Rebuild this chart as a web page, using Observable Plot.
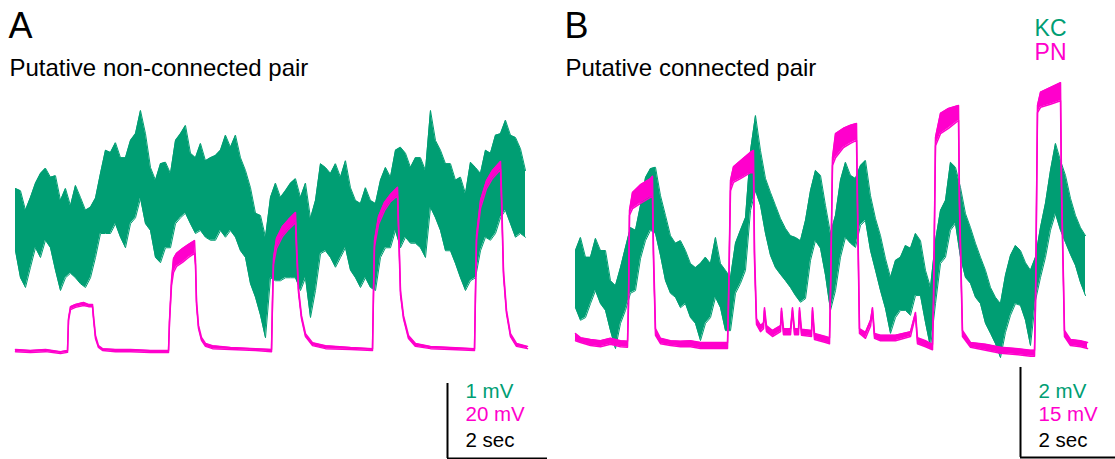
<!DOCTYPE html>
<html>
<head>
<meta charset="utf-8">
<script src="https://cdn.jsdelivr.net/npm/d3@7"></script>
<script src="https://cdn.jsdelivr.net/npm/@observablehq/plot@0.6"></script>
<style>
  html, body { margin: 0; padding: 0; background: #fff; }
  #fig { width: 1115px; height: 459px; display: flex; overflow: hidden; }
  #fig svg { display: block; }
</style>
</head>
<body>
<div id="fig"></div>
<script>
const green = "#009E73";
const magenta = "#FF00CC";
const dt = 0.1; // seconds between KC envelope samples

// ---------- Panel A: putative non-connected pair ----------
// KC membrane potential envelope (mV, arbitrary offset), sampled every 0.1 s
const kcA_hi = [2.16,2.13,1.87,2.04,2.23,2.36,2.43,2.31,2.33,2.00,
  2.16,1.93,2.20,2.04,1.87,1.91,2.03,2.36,2.67,2.64,
  2.77,2.57,2.57,2.80,2.89,3.20,2.89,2.44,2.27,2.49,
  2.51,2.36,2.80,2.89,3.00,2.63,2.57,2.76,2.53,2.57,
  2.60,2.67,2.87,2.71,2.87,2.57,2.40,2.17,1.83,1.80,
  1.51,2.04,2.23,2.04,2.13,2.23,2.29,2.04,2.23,1.76,
  2.00,2.49,2.44,2.36,2.49,2.31,2.53,2.17,2.00,1.96,
  2.17,2.00,1.96,2.27,2.44,2.31,2.67,2.71,2.63,2.44,
  2.57,2.57,2.40,3.20,2.80,2.67,2.49,2.49,2.27,2.31,
  2.09,2.51,2.44,2.36,2.67,2.63,2.87,2.89,3.07,2.87,
  2.84,2.69,2.40];
const kcA_lo = [1.33,0.97,0.84,1.11,1.37,1.24,1.47,1.37,1.07,0.80,
  0.97,1.03,0.97,0.89,0.84,0.97,1.24,1.56,1.56,1.56,
  1.69,1.51,1.37,1.69,1.77,2.03,1.69,1.60,1.24,1.17,
  1.37,1.37,1.69,1.77,1.83,1.69,1.56,1.60,1.51,1.47,
  1.47,1.60,1.51,1.60,1.51,1.33,1.24,0.89,0.71,0.47,
  0.17,0.97,0.93,0.93,0.97,0.97,0.97,0.80,0.97,0.44,
  0.80,1.29,1.33,1.24,1.11,1.24,1.37,1.07,0.97,0.84,
  0.97,0.84,0.80,1.24,1.37,1.37,1.60,1.37,1.51,1.43,
  1.43,1.37,1.24,1.91,1.77,1.60,1.33,1.33,1.16,0.97,
  0.80,0.93,0.97,1.33,1.51,1.47,1.56,1.77,1.87,1.69,
  1.51,1.56,1.51];
// PN membrane potential (mV relative to rest): time (s), upper and lower envelope
const pnA_t = [0,0.30,0.60,0.90,1.04,1.06,1.10,1.20,1.36,1.46,
  1.54,1.56,1.60,1.66,1.74,2.00,2.30,2.70,3.06,3.08,
  3.12,3.16,3.22,3.34,3.46,3.58,3.60,3.62,3.66,3.72,
  3.80,3.94,4.30,4.80,5.12,5.14,5.16,5.22,5.34,5.46,
  5.60,5.62,5.66,5.72,5.80,5.94,6.20,6.70,7.14,7.16,
  7.18,7.26,7.38,7.50,7.64,7.66,7.70,7.76,7.86,8.00,
  8.30,8.70,9.18,9.20,9.22,9.30,9.42,9.54,9.70,9.72,
  9.76,9.82,9.90,10.02,10.24];
const pnA_hi = [0.3,0.0,0.3,-0.3,0.0,8.5,11.7,12.3,12.8,12.3,
  12.3,9.3,4.0,1.3,0.5,0.3,0.3,0.0,0.0,8.0,
  18.7,24.5,25.9,27.2,28.3,29.3,24.0,13.3,6.7,3.5,
  1.9,1.3,0.8,0.5,0.3,13.3,24.5,29.9,33.1,34.9,
  36.8,29.3,16.5,9.3,4.5,2.1,1.3,0.8,0.5,16.0,
  29.3,35.7,39.5,41.6,43.5,34.7,16.0,9.3,4.0,1.9,
  1.1,0.8,0.5,16.0,30.7,40.0,45.3,48.0,50.4,42.7,
  21.3,10.7,4.5,1.9,1.1];
const pnA_lo = [-0.3,-0.5,-0.3,-0.8,-0.5,8.0,10.9,11.5,12.0,11.7,
  11.7,8.5,3.2,0.8,0.0,-0.3,-0.3,-0.5,-0.5,7.5,
  17.3,20.8,22.4,23.5,24.8,25.9,22.7,12.3,5.9,2.7,
  1.1,0.5,0.3,0.0,-0.3,12.5,22.9,27.2,30.4,32.3,
  34.1,26.7,15.5,8.5,3.7,1.3,0.5,0.3,0.0,14.9,
  27.7,33.6,37.3,39.7,41.3,32.5,14.9,8.5,3.2,1.1,
  0.5,0.3,0.0,14.9,29.3,37.9,43.2,45.9,48.3,40.0,
  20.0,9.9,3.7,1.1,0.5];

// ---------- Panel B: putative connected pair ----------
const kcB_hi = [2.11,2.40,1.96,1.96,2.38,2.11,2.11,1.44,1.33,1.73,
  2.18,2.62,2.56,3.11,3.73,3.93,3.96,3.33,2.89,2.44,
  2.27,2.33,2.11,1.82,1.73,1.82,1.96,1.82,2.40,1.82,
  1.67,1.51,2.27,2.56,2.84,4.33,5.11,4.33,3.71,3.40,
  3.11,2.82,2.60,2.44,2.40,2.33,2.78,3.44,3.89,3.78,
  3.11,2.49,2.89,3.67,4.07,3.78,3.71,4.00,4.11,3.33,
  2.82,2.44,1.93,1.51,1.89,1.96,2.22,2.16,2.49,2.33,
  1.67,1.29,2.33,3.00,3.22,4.07,3.96,3.51,2.93,2.62,
  2.27,1.96,1.67,1.29,1.07,0.93,1.56,2.00,2.22,2.11,
  1.84,1.67,1.96,2.62,3.16,3.89,4.49,4.11,3.78,3.27,
  2.89,2.62,2.44];
const kcB_lo = [0.84,0.56,0.62,0.93,1.22,0.93,0.78,0.33,-0.07,0.49,
  0.78,1.16,1.22,1.93,2.33,2.56,2.49,2.00,1.44,1.16,
  1.07,0.84,0.93,0.62,0.49,0.11,0.49,0.62,1.07,0.84,
  0.33,0.33,1.16,1.38,1.67,3.00,3.44,3.11,2.49,2.00,
  1.73,1.58,1.44,1.29,1.11,0.96,1.04,1.89,2.33,2.16,
  1.56,0.78,1.22,1.96,2.40,2.27,2.18,2.67,2.78,2.11,
  1.67,1.22,0.82,0.27,0.62,0.78,0.78,0.67,1.11,1.11,
  0.51,-0.04,0.93,1.82,1.96,2.56,2.71,1.96,1.51,1.38,
  1.07,0.93,0.49,0.27,0.04,-0.27,0.29,0.67,0.93,0.89,
  0.56,0.00,1.00,1.51,1.96,2.56,2.93,2.56,2.29,2.02,
  1.78,1.40,1.11];
const pnB_t = [0,0.10,0.30,0.50,0.70,0.90,1.04,1.06,1.08,1.14,
  1.30,1.50,1.54,1.56,1.60,1.70,1.90,2.10,2.30,2.50,
  2.80,3.04,3.06,3.10,3.16,3.30,3.50,3.56,3.58,3.62,
  3.70,3.76,3.78,3.82,3.94,4.10,4.12,4.16,4.30,4.34,
  4.38,4.46,4.48,4.52,4.72,4.74,4.78,5.00,5.08,5.10,
  5.14,5.20,5.36,5.50,5.62,5.64,5.68,5.80,5.90,5.94,
  5.98,6.10,6.40,6.70,6.80,6.84,7.00,7.14,7.16,7.20,
  7.30,7.46,7.66,7.68,7.74,7.90,8.20,8.50,8.80,9.10,
  9.18,9.20,9.24,9.30,9.50,9.70,9.72,9.78,9.90,10.10,
  10.24];
const pnB_hi = [2.0,1.3,1.0,0.8,1.2,0.8,0.7,7.5,22.5,25.5,
  26.8,27.8,28.2,15.8,2.8,1.2,0.8,0.7,0.8,0.5,
  0.5,0.5,7.5,27.5,29.8,30.8,32.2,32.5,15.8,4.5,
  3.3,3.8,6.3,3.3,2.5,3.3,6.2,2.8,2.8,6.3,
  2.8,2.8,6.3,2.7,2.5,6.3,2.0,1.5,1.3,9.2,
  31.3,35.3,36.2,36.7,37.0,24.2,2.8,2.2,4.2,6.3,
  2.0,1.7,1.7,2.3,5.5,1.3,0.8,0.2,7.5,34.7,
  38.7,39.5,40.0,24.2,2.5,0.5,0.2,-0.3,-0.5,-0.8,
  -0.8,7.5,40.0,42.2,43.0,43.8,27.5,2.5,1.0,0.8,
  0.5];
const pnB_lo = [0.8,0.5,0.0,-0.2,0.2,-0.2,-0.3,6.7,21.7,22.8,
  23.7,24.7,24.7,14.2,1.7,0.3,0.0,-0.2,-0.2,-0.5,
  -0.5,-0.5,6.7,25.8,27.2,27.8,28.8,28.8,14.2,3.5,
  2.3,2.8,5.8,2.3,1.5,2.3,5.7,1.8,1.8,5.8,
  1.8,1.8,5.8,1.7,1.5,5.8,1.0,0.5,0.3,8.3,
  30.0,31.3,33.0,33.7,34.2,22.5,2.0,1.2,3.2,5.8,
  1.2,0.8,0.8,1.5,5.0,0.3,-0.2,-0.7,6.7,33.3,
  35.3,36.2,37.5,22.5,1.5,-0.3,-0.8,-1.3,-1.5,-1.8,
  -1.8,6.7,38.8,39.7,40.2,40.8,25.8,1.5,0.0,-0.2,
  -0.5];

// Scale bars (mV per bar for each cell, 2 s horizontal)
const scaleA = {kc: 1, pn: 20, sec: 2};
const scaleB = {kc: 2, pn: 15, sec: 2};

function panel(cfg) {
  const kc = cfg.kcHi.map((h, i) => ({t: i * dt, hi: h / cfg.scale.kc, lo: cfg.kcLo[i] / cfg.scale.kc}));
  const pn = cfg.pnT.map((t, i) => ({t, hi: cfg.pnHi[i] / cfg.scale.pn, lo: cfg.pnLo[i] / cfg.scale.pn}));
  const bar = cfg.bar;
  const labels = [
    {text: `${cfg.scale.kc} mV`, color: green, dy: -68},
    {text: `${cfg.scale.pn} mV`, color: magenta, dy: -45.5},
    {text: `${cfg.scale.sec} sec`, color: "black", dy: -19.5}
  ];
  const marks = [
    Plot.areaY(kc, {x: "t", y1: "lo", y2: "hi", fill: green}),
    Plot.lineY(kc, {x: "t", y: "hi", stroke: green, strokeWidth: 1}),
    Plot.lineY(kc, {x: "t", y: "lo", stroke: green, strokeWidth: 1}),
    Plot.areaY(pn, {x: "t", y1: "lo", y2: "hi", fill: magenta}),
    Plot.lineY(pn, {x: "t", y: "hi", stroke: magenta, strokeWidth: 1.5}),
    Plot.lineY(pn, {x: "t", y: "lo", stroke: magenta, strokeWidth: 1.5}),
    Plot.ruleX([bar], {x: "t", y1: "y", y2: d => d.y + 1, stroke: "black", strokeWidth: 2}),
    Plot.ruleY([bar], {y: "y", x1: "t", x2: d => d.t + cfg.scale.sec, stroke: "black", strokeWidth: 2}),
    ...labels.map(l => Plot.text([l], {
      x: () => bar.t, text: d => d.text, fill: l.color, frameAnchor: "bottom",
      textAnchor: "start", lineAnchor: "middle", dx: 18, dy: l.dy, fontSize: 20.5
    })),
    Plot.text([cfg.letter], {text: d => d, frameAnchor: "top-left", textAnchor: "start",
      lineAnchor: "top", dx: cfg.letterDx, dy: 12, fontSize: 36, fill: "black"}),
    Plot.text([cfg.subtitle], {text: d => d, frameAnchor: "top-left", textAnchor: "start",
      lineAnchor: "top", dx: cfg.subDx, dy: 58, fontSize: 24, fill: "black"})
  ];
  if (cfg.legend) {
    marks.push(
      Plot.text(["KC"], {text: d => d, frameAnchor: "top-right", textAnchor: "end",
        lineAnchor: "top", dx: cfg.legendDx, dy: 19, fontSize: 23, fill: green}),
      Plot.text(["PN"], {text: d => d, frameAnchor: "top-right", textAnchor: "end",
        lineAnchor: "top", dx: cfg.legendDx, dy: 43, fontSize: 23, fill: magenta})
    );
  }
  return Plot.plot({
    width: cfg.width,
    height: 459,
    margin: 0,
    style: {fontFamily: "'Liberation Sans', Arial, Helvetica, sans-serif", background: "white"},
    x: {domain: cfg.xDomain, axis: null},
    y: {domain: cfg.yDomain, axis: null},
    marks
  });
}

const fig = document.getElementById("fig");
fig.append(panel({
  kcHi: kcA_hi, kcLo: kcA_lo, pnT: pnA_t, pnHi: pnA_hi, pnLo: pnA_lo,
  scale: scaleA, bar: {t: 8.64, y: -1.44},
  width: 557, xDomain: [-0.3, 10.84], yDomain: [-1.4533, 4.6667],
  letter: "A", letterDx: 8, subtitle: "Putative non-connected pair", subDx: 9
}));
fig.append(panel({
  kcHi: kcB_hi, kcLo: kcB_lo, pnT: pnB_t, pnHi: pnB_hi, pnLo: pnB_lo,
  scale: scaleB, bar: {t: 8.9, y: -1.244},
  width: 558, xDomain: [-0.36, 10.8], yDomain: [-1.2667, 3.8333],
  letter: "B", letterDx: 7, subtitle: "Putative connected pair", subDx: 8,
  legend: true, legendDx: -49
}));
</script>
</body>
</html>
